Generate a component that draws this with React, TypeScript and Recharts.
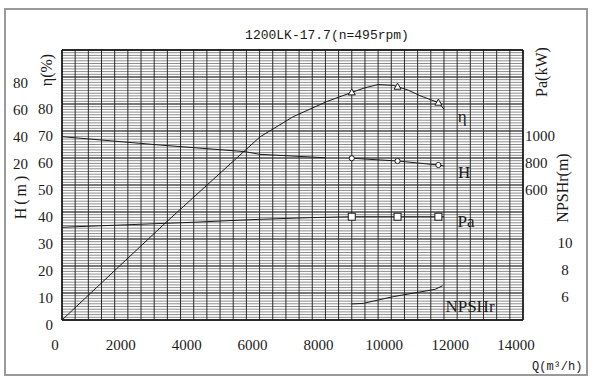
import React from 'react';
import {
  LineChart,
  Line,
  XAxis,
  YAxis,
  CartesianGrid,
  ReferenceLine,
  ReferenceDot
} from 'recharts';

const SERIF = '"Liberation Serif", "Times New Roman", serif';
const MONO = '"Liberation Mono", "Courier New", monospace';
const INK = '#1a1a1a';

// axis ids: within one side the inner axis comes first
const ETA = 'a-eta';
const HEAD = 'b-head';
const POWER = 'a-power';
const NPSH = 'b-npsh';

// axis ticks
const qTicks = [0, 2000, 4000, 6000, 8000, 10000, 12000, 14000];
const qGrid = Array.from({ length: 36 }, (_, i) => i * 400); // one column per 400 m3/h
const etaTicks = [0, 10, 20, 30, 40, 50, 60, 70, 80];
const etaGrid = Array.from({ length: 101 }, (_, i) => i); // fine rulings, 1 %
const etaMajor = [0, 10, 20, 30, 40, 50, 60, 70, 80, 90, 100];
const headTicks = [20, 40, 60, 80];
const powerTicks = [600, 800, 1000];
const npshTicks = [6, 8, 10];

// efficiency curve
const etaQ = [0, 3180, 6010, 7020, 8040, 8800, 9200, 9600, 10060, 10500, 10870, 11430, 11600];
const etaV = [0, 36.4, 67.8, 75.3, 80.9, 84.3, 86.0, 87.2, 86.9, 85.2, 83.1, 80.5, 78.1];

// head curve (gap between 8000 and 8800)
const headQ = [0, 2980, 5560, 6010, 7990, 8400, 8800, 10190, 11430, 11600];
const headV = [35.8, 29.6, 24.7, 22.7, 20.2, null, 19.8, 17.8, 14.8, 14.1];

// shaft power curve
const powerQ = [0, 3990, 6010, 7530, 8800, 10190, 11430, 11600];
const powerV = [287, 324, 346, 358, 365, 365, 365, 365];

// NPSHr curve
const npshQ = [8800, 9150, 10060, 11330, 11560];
const npshV = [5.19, 5.23, 5.73, 6.27, 6.54];

// test points
const pointQ = [8800, 10190, 11430];
const etaPts = [84.3, 86.4, 80.5];
const headPts = [19.8, 17.8, 14.8];
const powerPts = [365, 365, 365];

// curve names inside the grid (placed on the efficiency scale)
const nameText = ['η', 'H', 'Pa', 'NPSHr'];
const nameQ = [12150, 12210, 12270, 12390];
const nameEta = [75.6, 54.8, 36.7, 5.2];

const zip = (qs: number[], vs: (number | null)[]) => qs.map((q, i) => ({ q, v: vs[i] }));

const etaData = zip(etaQ, etaV);
const headData = zip(headQ, headV);
const powerData = zip(powerQ, powerV);
const npshData = zip(npshQ, npshV);
const etaMarks = zip(pointQ, etaPts);
const headMarks = zip(pointQ, headPts);
const powerMarks = zip(pointQ, powerPts);

const makeTick = (show: number[], dx: number, dy: number, anchor: string) => (props: any) => {
  const { x, y, payload } = props;
  if (!show.includes(payload.value)) return <g />;
  return (
    <text
      x={x + dx}
      y={y + dy}
      textAnchor={anchor}
      dominantBaseline="central"
      fontFamily={SERIF}
      fontSize={15}
      fill={INK}
    >
      {payload.value}
    </text>
  );
};

const AxisTitle = (props: any) => {
  const { viewBox, text, ox, oy, spacing } = props;
  if (!viewBox) return null;
  const cx = viewBox.x + ox;
  const cy = viewBox.y + oy;
  return (
    <text
      x={cx}
      y={cy}
      transform={`rotate(-90 ${cx} ${cy})`}
      textAnchor="middle"
      dominantBaseline="central"
      fontFamily={SERIF}
      fontSize={16}
      letterSpacing={spacing || 0}
      fill={INK}
    >
      {text}
    </text>
  );
};

const Tri = ({ cx, cy }: any) =>
  cx == null ? <g /> : (
    <polygon
      points={`${cx},${cy - 3.5} ${cx - 3.5},${cy + 2.5} ${cx + 3.5},${cy + 2.5}`}
      fill="#fff"
      stroke={INK}
      strokeWidth={1}
    />
  );

const Ring = ({ cx, cy }: any) =>
  cx == null ? <g /> : <circle cx={cx} cy={cy} r={2.6} fill="#fff" stroke={INK} strokeWidth={1} />;

const Box = ({ cx, cy }: any) =>
  cx == null ? <g /> : (
    <rect x={cx - 3.5} y={cy - 3.5} width={7} height={7} fill="#fff" stroke={INK} strokeWidth={1} />
  );

export default function App() {
  return (
    <div style={{ position: 'absolute', left: 0, top: 0, width: 600, height: 388, background: '#fff' }}>
      <div
        style={{
          position: 'absolute',
          left: 4,
          top: 8,
          width: 584,
          height: 368,
          boxSizing: 'border-box',
          border: '2px solid #9a9a9a'
        }}
      />
      <div
        style={{
          position: 'absolute',
          left: 177,
          top: 28,
          width: 300,
          textAlign: 'center',
          fontFamily: MONO,
          fontSize: 13,
          lineHeight: '16px',
          color: INK
        }}
      >
        1200LK-17.7(n=495rpm)
      </div>
      <div
        style={{
          position: 'absolute',
          left: 532,
          top: 359,
          fontFamily: MONO,
          fontSize: 12,
          lineHeight: '16px',
          color: INK
        }}
      >
        Q(m³/h)
      </div>

      <div style={{ position: 'absolute', left: 0, top: 0 }}>
        <LineChart width={600} height={388} margin={{ top: 50, right: 0, bottom: 38, left: 0 }}>
          <XAxis
            type="number"
            dataKey="q"
            domain={[0, 14000]}
            ticks={qGrid}
            interval={0}
            tickSize={0}
            tickMargin={0}
            axisLine={false}
            tickLine={false}
            tick={makeTick(qTicks, -7, 25, 'middle')}
            height={30}
          />
          <YAxis
            yAxisId={ETA}
            orientation="left"
            type="number"
            domain={[0, 100]}
            ticks={etaGrid}
            interval={0}
            width={31}
            tickSize={0}
            tickMargin={0}
            axisLine={false}
            tickLine={false}
            tick={makeTick(etaTicks, -9, 5, 'end')}
            label={<AxisTitle text="η(%)" ox={15} oy={20} />}
          />
          <YAxis
            yAxisId={HEAD}
            orientation="left"
            type="number"
            domain={[-100, 100]}
            ticks={headTicks}
            interval={0}
            width={31}
            tickSize={0}
            tickMargin={0}
            axisLine={false}
            tickLine={false}
            tick={makeTick(headTicks, -3, 6, 'end')}
            label={<AxisTitle text="H(m)" ox={20} oy={146} spacing={3} />}
          />
          <YAxis
            yAxisId={POWER}
            orientation="right"
            type="number"
            domain={[-400, 1600]}
            ticks={powerTicks}
            interval={0}
            width={37}
            tickSize={0}
            tickMargin={0}
            axisLine={false}
            tickLine={false}
            tick={makeTick(powerTicks, 2, 5, 'start')}
            label={<AxisTitle text="Pa(kW)" ox={18} oy={22} />}
          />
          <YAxis
            yAxisId={NPSH}
            orientation="right"
            type="number"
            domain={[4, 24]}
            ticks={npshTicks}
            interval={0}
            width={40}
            tickSize={0}
            tickMargin={0}
            axisLine={false}
            tickLine={false}
            tick={makeTick(npshTicks, 5, 4, 'middle')}
            label={<AxisTitle text="NPSHr(m)" ox={2} oy={138} />}
          />

          {/* fine horizontal rulings, then the column lines */}
          <CartesianGrid yAxisId={ETA} vertical={false} stroke="#8c8c8c" strokeWidth={1} />
          <CartesianGrid yAxisId={ETA} horizontal={false} stroke="#2a2a2a" strokeWidth={1} />
          {etaMajor.map(v => (
            <ReferenceLine key={`maj-${v}`} yAxisId={ETA} y={v} stroke="#2a2a2a" strokeWidth={1} />
          ))}
          <ReferenceLine yAxisId={ETA} x={0} stroke="#111" strokeWidth={1.5} />
          <ReferenceLine yAxisId={ETA} x={14000} stroke="#111" strokeWidth={1.5} />
          <ReferenceLine yAxisId={ETA} y={0} stroke="#111" strokeWidth={1.5} />
          <ReferenceLine yAxisId={ETA} y={100} stroke="#111" strokeWidth={1.5} />

          <Line yAxisId={ETA} data={etaData} dataKey="v" type="linear" stroke={INK} strokeWidth={1} dot={false} isAnimationActive={false} />
          <Line yAxisId={HEAD} data={headData} dataKey="v" type="linear" stroke={INK} strokeWidth={1} dot={false} isAnimationActive={false} />
          <Line yAxisId={POWER} data={powerData} dataKey="v" type="linear" stroke={INK} strokeWidth={1} dot={false} isAnimationActive={false} />
          <Line yAxisId={NPSH} data={npshData} dataKey="v" type="linear" stroke={INK} strokeWidth={1} dot={false} isAnimationActive={false} />

          <Line yAxisId={ETA} data={etaMarks} dataKey="v" stroke="none" dot={(p: any) => <Tri key={`t${p.index}`} {...p} />} isAnimationActive={false} />
          <Line yAxisId={HEAD} data={headMarks} dataKey="v" stroke="none" dot={(p: any) => <Ring key={`r${p.index}`} {...p} />} isAnimationActive={false} />
          <Line yAxisId={POWER} data={powerMarks} dataKey="v" stroke="none" dot={(p: any) => <Box key={`b${p.index}`} {...p} />} isAnimationActive={false} />

          {nameText.map((t, i) => (
            <ReferenceDot
              key={t}
              yAxisId={ETA}
              x={nameQ[i]}
              y={nameEta[i]}
              r={0}
              fill="none"
              stroke="none"
              label={{ value: t, position: 'center', fontFamily: SERIF, fontSize: 17, fill: INK }}
            />
          ))}
        </LineChart>
      </div>
    </div>
  );
}
